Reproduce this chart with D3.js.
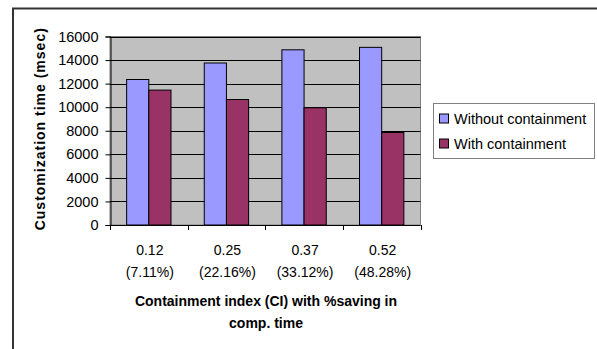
<!DOCTYPE html>
<html>
<head>
<meta charset="utf-8">
<script src="https://cdn.jsdelivr.net/npm/d3@7"></script>
<style>
  html, body { margin: 0; padding: 0; background: #fff; }
  svg { display: block; }
  text { font-family: "Liberation Sans", Arial, sans-serif; fill: #000; }
</style>
</head>
<body>
<svg id="chart" width="597" height="349"></svg>
<script>
// Customization time per containment index, with and without containment
const categories = ["0.12", "0.25", "0.37", "0.52"];
const savings = ["(7.11%)", "(22.16%)", "(33.12%)", "(48.28%)"];
const seriesNames = ["Without containment", "With containment"];
const withoutContainment = [12350, 13750, 14870, 15080];
const withContainment = [11450, 10650, 9950, 7850];
const yTicks = [0, 2000, 4000, 6000, 8000, 10000, 12000, 14000, 16000];
const colors = ["#9999FF", "#993366"];

const svg = d3.select("#chart");

// outer chart frame
svg.append("rect")
  .attr("x", 13).attr("y", 8.5)
  .attr("width", 640).attr("height", 400)
  .attr("fill", "#fff").attr("stroke", "#333").attr("stroke-width", 2);

const plot = { left: 110, right: 420.5, top: 36.5, bottom: 225 };

const x = d3.scaleBand().domain(categories).range([plot.left, plot.right]);
const inner = d3.scaleBand().domain(seriesNames).range([0, x.bandwidth()])
  .paddingInner(0).paddingOuter(0.75);
const y = d3.scaleLinear().domain([0, 16000]).range([plot.bottom, plot.top]);

// plot background
svg.append("rect")
  .attr("x", plot.left).attr("y", plot.top)
  .attr("width", plot.right - plot.left).attr("height", plot.bottom - plot.top)
  .attr("fill", "#C0C0C0").attr("stroke", "#808080").attr("stroke-width", 1);

// horizontal gridlines
svg.append("g").selectAll("line")
  .data(yTicks.filter(d => d > 0))
  .join("line")
  .attr("x1", plot.left).attr("x2", plot.right)
  .attr("y1", d => Math.round(y(d)) + 0.5).attr("y2", d => Math.round(y(d)) + 0.5)
  .attr("stroke", "#000").attr("stroke-width", 1);

// bars
const series = [withoutContainment, withContainment];
series.forEach((vals, si) => {
  svg.append("g").selectAll("rect")
    .data(categories.map((c, i) => ({ c, v: vals[i] })))
    .join("rect")
    .attr("x", d => x(d.c) + inner(seriesNames[si]))
    .attr("y", d => y(d.v))
    .attr("width", inner.bandwidth())
    .attr("height", d => y(0) - y(d.v))
    .attr("fill", colors[si])
    .attr("stroke", "#000").attr("stroke-width", 1);
});

// y axis
const yAxis = d3.axisLeft(y).tickValues(yTicks).tickSize(5).tickPadding(7)
  .tickFormat(d3.format("d"));
const gy = svg.append("g").attr("transform", `translate(${plot.left + 0.5},0)`).call(yAxis);
gy.select(".domain").attr("stroke", "#000");
gy.selectAll(".tick line").attr("stroke", "#000");
gy.selectAll(".tick text")
  .attr("font-size", 14.5).attr("font-family", "Liberation Sans, Arial, sans-serif")
  .attr("fill", "#000");

// x axis line and category boundary ticks
svg.append("line")
  .attr("x1", plot.left).attr("x2", plot.right)
  .attr("y1", plot.bottom + 0.5).attr("y2", plot.bottom + 0.5)
  .attr("stroke", "#000");
const bounds = categories.map(c => x(c)).concat([x(categories[categories.length - 1]) + x.bandwidth()]);
svg.append("g").selectAll("line")
  .data(bounds)
  .join("line")
  .attr("x1", d => Math.round(d) + 0.5).attr("x2", d => Math.round(d) + 0.5)
  .attr("y1", plot.bottom).attr("y2", plot.bottom + 5)
  .attr("stroke", "#000");

// category labels (two lines)
const labels = svg.append("g").selectAll("text")
  .data(categories.map((c, i) => ({ c, s: savings[i] })))
  .join("text")
  .attr("text-anchor", "middle")
  .attr("font-size", 14);
labels.append("tspan")
  .attr("x", d => x(d.c) + x.bandwidth() / 2 + 1).attr("y", 255)
  .text(d => d.c);
labels.append("tspan")
  .attr("x", d => x(d.c) + x.bandwidth() / 2 + 1).attr("y", 277)
  .text(d => d.s);

// x axis title
const xt = svg.append("text")
  .attr("text-anchor", "middle")
  .attr("font-size", 14).attr("font-weight", "bold");
xt.append("tspan").attr("x", 266).attr("y", 306).text("Containment index (CI) with %saving in");
xt.append("tspan").attr("x", 266).attr("y", 328).text("comp. time");

// y axis title
svg.append("text")
  .attr("transform", `translate(45,${(plot.top + plot.bottom) / 2 - 2}) rotate(-90)`)
  .attr("text-anchor", "middle")
  .attr("font-size", 14).attr("font-weight", "bold")
  .attr("letter-spacing", 1)
  .text("Customization time (msec)");

// legend
const lg = svg.append("g");
lg.append("rect")
  .attr("x", 433.5).attr("y", 103.5).attr("width", 161).attr("height", 55)
  .attr("fill", "#fff").attr("stroke", "#808080").attr("stroke-width", 1);
seriesNames.forEach((name, i) => {
  const cy = 118.5 + i * 25;
  lg.append("rect")
    .attr("x", 439.5).attr("y", cy - 4.5).attr("width", 9).attr("height", 9)
    .attr("fill", colors[i]).attr("stroke", "#000");
  lg.append("text")
    .attr("x", 454).attr("y", cy + 5)
    .attr("font-size", 14.5)
    .text(name);
});
</script>
</body>
</html>
